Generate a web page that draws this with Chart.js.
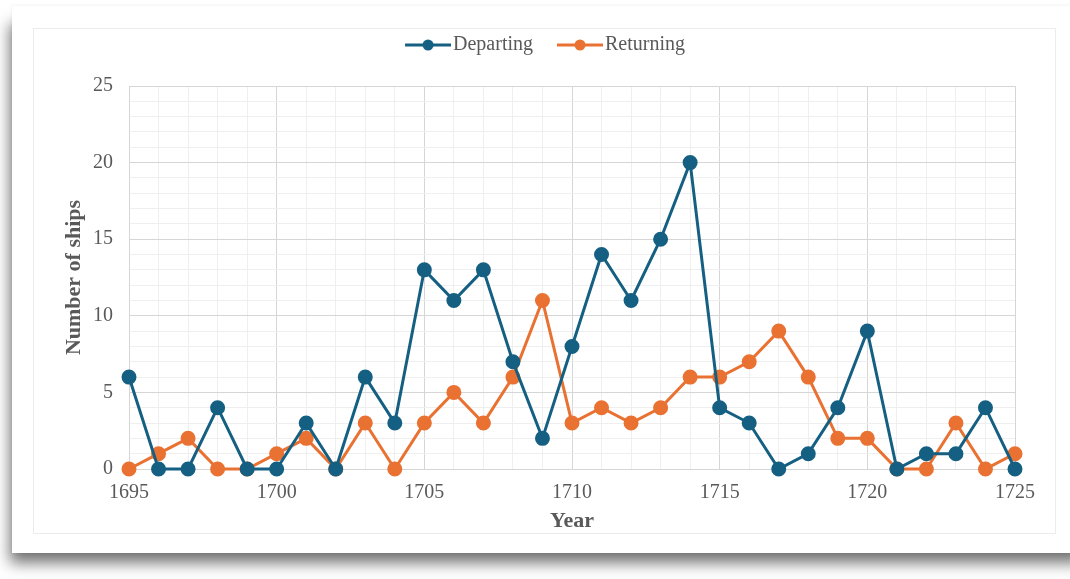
<!DOCTYPE html>
<html>
<head>
<meta charset="utf-8">
<script src="https://cdn.jsdelivr.net/npm/chart.js@4.4.1/dist/chart.umd.min.js"></script>
<style>
  html, body { margin: 0; padding: 0; background: #fff; }
  body { width: 1070px; height: 579px; position: relative; overflow: hidden; }
  .card {
    position: absolute; left: 12px; top: 6px; width: 1080px; height: 547px;
    background: #fff;
    box-shadow: -6px 14px 14px -4px rgba(0,0,0,0.55), 0 0 3px rgba(0,0,0,0.08);
  }
  .frame {
    position: absolute; left: 33px; top: 28px; width: 1021px; height: 504px;
    border: 1px solid #ececec; background: #fff;
  }
  canvas { display: block; }
</style>
</head>
<body>
<div class="card"></div>
<div class="frame"><canvas id="shipChart" width="1021" height="504"></canvas></div>
<script>
// ================= DATA =================
const years = [1695, 1696, 1697, 1698, 1699, 1700, 1701, 1702, 1703, 1704,
               1705, 1706, 1707, 1708, 1709, 1710, 1711, 1712, 1713, 1714,
               1715, 1716, 1717, 1718, 1719, 1720, 1721, 1722, 1723, 1724, 1725];
const departing = [6, 0, 0, 4, 0, 0, 3, 0, 6, 3,
                   13, 11, 13, 7, 2, 8, 14, 11, 15, 20,
                   4, 3, 0, 1, 4, 9, 0, 1, 1, 4, 0];
const returning = [0, 1, 2, 0, 0, 1, 2, 0, 3, 0,
                   3, 5, 3, 6, 11, 3, 4, 3, 4, 6,
                   6, 7, 9, 6, 2, 2, 0, 0, 3, 0, 1];
const seriesNames = ["Departing", "Returning"];
const seriesColors = ["#156082", "#E97132"];

const FONT = "'Liberation Serif', 'Times New Roman', serif";
const TEXT = "#595959";

// legend marker: short line with a dot, blank space on the left as item gap
function legendMarker(color) {
  const c = document.createElement("canvas");
  c.width = 72; c.height = 14;
  const g = c.getContext("2d");
  g.strokeStyle = color; g.lineWidth = 3;
  g.beginPath(); g.moveTo(26, 7); g.lineTo(72, 7); g.stroke();
  g.fillStyle = color;
  g.beginPath(); g.arc(49, 7, 5.5, 0, Math.PI * 2); g.fill();
  return c;
}

const toPoints = arr => arr.map((v, i) => ({ x: years[i], y: v }));

const gridColor = ctx => (ctx.tick && ctx.tick.value % 5 === 0) ? "#d6d6d6" : "#efefef";

// extra room under the legend
const legendGap = {
  id: "legendGap",
  beforeInit(chart) {
    const fit = chart.legend.fit;
    chart.legend.fit = function () {
      fit.call(this);
      this.height += 21;
    };
  }
};

new Chart(document.getElementById("shipChart"), {
  type: "line",
  data: {
    datasets: [departing, returning].map((d, k) => ({
      label: seriesNames[k],
      data: toPoints(d),
      borderColor: seriesColors[k],
      backgroundColor: seriesColors[k],
      borderWidth: 3,
      pointRadius: 6,
      pointHoverRadius: 6,
      tension: 0,
      clip: false
    }))
  },
  plugins: [legendGap],
  options: {
    responsive: false,
    animation: false,
    layout: { padding: { left: 23, right: 40, top: 0, bottom: 0 } },
    plugins: {
      tooltip: { enabled: false },
      legend: {
        position: "top",
        labels: {
          usePointStyle: true,
          pointStyleWidth: 56,
          padding: 6,
          color: TEXT,
          font: { family: FONT, size: 20 },
          generateLabels: chart => chart.data.datasets.map((ds, i) => ({
            text: ds.label,
            pointStyle: legendMarker(ds.borderColor),
            fillStyle: ds.borderColor,
            strokeStyle: ds.borderColor,
            lineWidth: 0,
            fontColor: TEXT,
            datasetIndex: i
          }))
        }
      }
    },
    scales: {
      x: {
        type: "linear",
        min: 1695, max: 1725,
        ticks: {
          stepSize: 1,
          autoSkip: false,
          maxRotation: 0,
          padding: 12,
          color: TEXT,
          font: { family: FONT, size: 20 },
          callback: v => (v % 5 === 0 ? String(v) : "")
        },
        grid: { color: gridColor, drawTicks: false },
        border: { color: "#d6d6d6" },
        title: { display: true, text: "Year", color: TEXT, padding: { top: 9, bottom: -2 },
                 font: { family: FONT, size: 22, weight: "bold" } },
        afterFit: s => { s.height = 64; }
      },
      y: {
        min: 0, max: 25,
        ticks: {
          stepSize: 1,
          autoSkip: false,
          padding: 16,
          color: TEXT,
          font: { family: FONT, size: 20 },
          callback: v => (v % 5 === 0 ? String(v) : "")
        },
        grid: { color: gridColor, drawTicks: false },
        border: { color: "#d6d6d6" },
        title: { display: true, text: "Number of ships", color: TEXT,
                 font: { family: FONT, size: 22, weight: "bold" } },
        afterFit: s => { s.width = 72; }
      }
    }
  }
});
</script>
</body>
</html>
